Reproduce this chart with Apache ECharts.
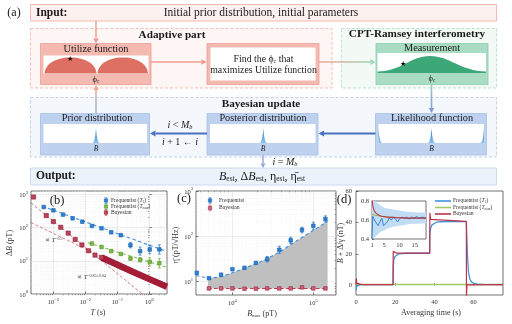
<!DOCTYPE html>
<html><head><meta charset="utf-8">
<script src="https://cdn.jsdelivr.net/npm/echarts@6/dist/echarts.min.js"></script>
<style>html,body{margin:0;padding:0;background:#fff}#c{width:512px;height:324px}</style>
</head><body><div id="c"></div>
<script>
// ---------------- DATA ----------------
// (b) noise vs. Ramsey time T (s), ΔB (pT)
const bT      = [5e-4,1e-3,2e-3,4e-3,8e-3,0.016,0.032,0.064,0.128,0.256,0.512,1.024,2.048];
const bBlue   = [415,330,245,190,150,112,95,72,59,29.5,19.5,22,22];
const bBlueLo = [395,313,232,180,142,106,90,68,55,24.5,14.8,16.3,15.9];
const bBlueHi = [436,347,258,200,158,118,100,76,63,35.6,25.7,29.7,30.3];
const bGreenT = [0.016,0.032,0.064,0.128,0.256,0.512,1.024,2.048];
const bGreen  = [33,26,19.5,16,11.7,10.7,9.3,8.5];
const bGreenLo= [30,23.6,17.7,14.5,10.4,9.2,7.0,6.1];
const bGreenHi= [36,28.6,21.5,17.6,13.2,12.4,12.3,11.8];
const bRedT   = [2.4e-4,6e-4,1e-3,1.7e-3,2.9e-3,4.8e-3,7.8e-3,0.0125,0.02,0.032];
const bRed    = [830,229,151,102,68,44,30,20,14.8,12.6];
const bBandT  = [0.032,0.1,0.3,1,3.55];
const bBand   = [12.5,7.6,4.7,2.8,1.65];
const bBlueFitT = [4.5e-4,3.2],  bBlueFit = [440,19.5];
const bGreenFitT= [0.012,3.55],  bGreenFit= [35,6.3];
const bSteepT   = [2e-4,0.6],    bSteep   = [550,1];
const bShallowT = [2e-4,3.55],   bShallow = [141,1.5];
const bXTicks = [-3,-2,-1,0], bYTicks = [0,1,2,3];

// (c) sensitivity vs. B_max (pT)
const cB      = [3630,5130,7240,10000,14100,19500,26900,38000,52500,72400,100000,141000];
const cFreq   = [15.5,11.8,14.1,18.6,20,25.7,31,50,81,138,170,240];
const cFreqLo = [14.8,11.3,13.5,17.8,19.1,24.5,27,41.7,69,119,142,204];
const cFreqHi = [16.2,12.4,14.8,19.5,21,26.9,35.6,60,95,158,204,282];
const cBayB   = [5130,7240,10000,14100,19500,26900,38000,52500,72400,100000,141000];
const cBay    = [7.0,7.0,7.0,6.9,6.9,7.0,7.0,7.0,7.4,7.0,7.0];
const cBayLo  = [6.7,6.7,6.7,6.6,6.6,6.7,6.7,6.7,7.1,6.7,6.7];
const cBayHi  = [7.3,7.3,7.3,7.2,7.2,7.3,7.3,7.3,7.7,7.3,7.3];
const cFitB   = [3550,5000,7000,10000,14000,20000,28000,40000,56000,80000,110000,150000];
const cFit    = [13.5,11.8,12.5,15.5,19.5,25,33,47,70,105,150,215];
const cBayFitB= [5000,150000], cBayFit = [7.0,7.0];
const cXTicks = [4,5], cYTicks = [1,2,3];

// (d) tracking: averaging time (s), B + Δ/γ (nT)
const dBlueT = [0,0.3,0.8,2,18.9,19.0,19.3,19.8,20.5,21.5,23,26,37.6,37.7,38.1,38.8,39.8,41,43,47,56.3,56.5,56.9,57.4,58,58.8,60,62,65,75];
const dBlue  = [-3,-0.5,0.4,0.6,0.6,12,16.5,18.3,19.3,19.9,20.3,20.5,20.5,33,36.5,38.5,39.6,40.2,40.5,40.6,40.6,33,18,8.5,4.5,2.5,1.4,0.9,0.7,0.6];
const dRedT  = [0,0.15,0.4,1,3,18.9,19.0,19.4,20.5,37.6,37.7,38.1,39,56.3,56.35,56.6,57.5,75];
const dRed   = [0.5,4.5,1.5,0.8,0.6,0.6,21.8,21,20.6,20.6,46,42,41,40.7,-8,0.4,0.6,0.6];
const dGreenT= [0,2,75];
const dGreen = [0.6,0.62,0.62];
const dXTicks = [0,20,40,60], dYTicks = [0,20,40,60];
// inset
const iBlueT = [1,1.25,1.8,2.3,3,3.6,4.2,4.8,5.4,6,6.6,7.3,8,8.7,9.4,10,10.8,11.6,12.4,13.2,14,14.8,15.6,16.5,17.5,18.7];
const iBlue  = [0.40,0.64,0.60,0.60,0.54,0.58,0.62,0.54,0.52,0.58,0.62,0.60,0.63,0.61,0.58,0.61,0.63,0.62,0.63,0.61,0.63,0.62,0.635,0.62,0.63,0.62];
const iBandT = [1,2,3,4,5,6,8,10,12,14,16,18.7];
const iBandLo= [0.40,0.42,0.45,0.48,0.49,0.51,0.53,0.54,0.55,0.56,0.56,0.565];
const iBandHi= [0.82,0.80,0.77,0.75,0.73,0.72,0.71,0.70,0.69,0.685,0.68,0.68];
const iRedT  = [1,1.3,1.7,2.2,3,4,6,9,13,18.7];
const iRed   = [0.82,0.74,0.70,0.675,0.655,0.64,0.63,0.625,0.62,0.62];
const iGreenT= [1,2,3,5,8,12,18.7];
const iGreen = [0.66,0.65,0.645,0.635,0.628,0.622,0.62];
const iXTicks = [1,5,10,15];

// ---------------- STYLE ----------------
const SERIF = '"Liberation Serif","Times New Roman",serif';
const C_BLUE='#2f7fd0', C_GREEN='#7ab648';
const L = Math.log10;
const pairsLog = (xs,ys)=>xs.map((x,i)=>[L(x),L(ys[i])]);
const triLog = (xs,lo,hi)=>xs.map((x,i)=>[L(x),L(lo[i]),L(hi[i])]);
const pairs = (xs,ys)=>xs.map((x,i)=>[x,ys[i]]);

const richTick = {
  a:{fontSize:6.5,fontFamily:SERIF,color:'#333',verticalAlign:'bottom',lineHeight:9},
  s:{fontSize:4.6,fontFamily:SERIF,color:'#333',verticalAlign:'top',lineHeight:5}
};
const powFmt = v => '{a|10}{s|' + (v<0 ? '\u2212'+(-v) : v) + '}';
function minorList(d0,d1,lo,hi){const out=[];for(let d=d0;d<=d1;d++){for(let m=2;m<=9;m++){const v=d+L(m);if(v>lo&&v<hi)out.push(v);}}return out;}

function errRender(params, api){
  const x=api.value(0), lo=api.value(1), hi=api.value(2);
  const p1=api.coord([x,lo]), p2=api.coord([x,hi]);
  const w=1.4, st={stroke:api.visual('color'),lineWidth:0.8};
  return {type:'group',children:[
    {type:'line',shape:{x1:p1[0],y1:p1[1],x2:p2[0],y2:p2[1]},style:st},
    {type:'line',shape:{x1:p1[0]-w,y1:p1[1],x2:p1[0]+w,y2:p1[1]},style:st},
    {type:'line',shape:{x1:p2[0]-w,y1:p2[1],x2:p2[0]+w,y2:p2[1]},style:st}]};
}
// filled band between value dims 1 (low) and 2 (high)
function bandRender(params, api){
  if(params.dataIndexInside!==0) return null;
  const n=params.dataInsideLength, top=[], bot=[];
  for(let j=0;j<n;j++){
    top.push(api.coord([api.value(0,j),api.value(2,j)]));
    bot.push(api.coord([api.value(0,j),api.value(1,j)]));
  }
  return {type:'polygon',shape:{points:top.concat(bot.reverse())},style:{fill:api.visual('color')}};
}

// ---------------- AXES ----------------
function majorAxis(grid,min,max,ticks,pos){
  return {gridIndex:grid,type:'value',min,max,position:pos,axisLine:{show:false},
    axisTick:{show:true,inside:true,length:2.5,customValues:ticks,lineStyle:{color:'#333',width:0.6}},
    axisLabel:{customValues:ticks,formatter:powFmt,rich:richTick,margin:3},
    splitLine:{show:true,lineStyle:{color:'#d9d9d9',width:0.5}}};
}
function minorAxis(grid,min,max,vals,pos){
  return {gridIndex:grid,type:'value',min,max,position:pos,axisLine:{show:false},
    axisTick:{show:true,inside:true,length:1.3,customValues:vals,lineStyle:{color:'#555',width:0.5}},
    axisLabel:{show:false},
    splitLine:{show:true,lineStyle:{color:'#e8e8e8',width:0.5,type:[1,1.5]}}};
}
function linAxis(grid,min,max,ticks,m,fmt){
  return {gridIndex:grid,type:'value',min,max,axisLine:{show:false},
    axisTick:{inside:true,length:2.5,customValues:ticks,lineStyle:{color:'#333',width:0.6}},
    axisLabel:{customValues:ticks,fontSize:6.5,fontFamily:SERIF,color:'#333',margin:m,formatter:fmt},splitLine:{show:false}};
}
const bx0=L(2e-4), bx1=L(3.55), by0=0, by1=3.1;
const cx0=3.55, cx1=5.28, cy0=0.7, cy1=3;

const xAxis=[
  majorAxis(0,bx0,bx1,bXTicks,'bottom'),
  minorAxis(0,bx0,bx1,minorList(-4,0,bx0,bx1),'top'),
  majorAxis(1,cx0,cx1,cXTicks,'bottom'),
  minorAxis(1,cx0,cx1,minorList(3,5,cx0,cx1),'top'),
  linAxis(2,0,75,dXTicks,4),
  linAxis(3,1,18.7,iXTicks,3)
];
const yAxis=[
  majorAxis(0,by0,by1,bYTicks,'left'),
  minorAxis(0,by0,by1,minorList(0,3,by0,by1),'right'),
  majorAxis(1,cy0,cy1,cYTicks,'left'),
  minorAxis(1,cy0,cy1,minorList(0,3,cy0,cy1),'right'),
  linAxis(2,-6,60,dYTicks,4),
  {gridIndex:3,type:'value',min:0.4,max:0.8,interval:0.2,axisLine:{show:false},
   axisTick:{inside:true,length:2,lineStyle:{color:'#333',width:0.6}},
   axisLabel:{fontSize:6.5,fontFamily:SERIF,color:'#333',margin:3,formatter:v=>v.toFixed(1)},splitLine:{show:false}}
];
const gridBox={show:true,borderColor:'#333',borderWidth:0.7,backgroundColor:'#fff'};
const grid=[
  Object.assign({left:31,top:191,width:136,height:103},gridBox),
  Object.assign({left:196,top:191,width:140,height:104},gridBox),
  Object.assign({left:356,top:191,width:147,height:104},gridBox),
  Object.assign({left:372,top:201,width:54,height:38,z:5},gridBox)
];

// ---------------- SERIES ----------------
const S=[];
const line=(xi,data,color,w,dash,z)=>({type:'line',xAxisIndex:xi,yAxisIndex:xi,data,symbol:'none',silent:true,clip:true,z:z||2,
  lineStyle:{color,width:w,type:dash||'solid'}});
const errS=(xi,data,color)=>({type:'custom',xAxisIndex:xi,yAxisIndex:xi,data,renderItem:errRender,itemStyle:{color},silent:true,clip:true,z:3});
const bandS=(xi,data,color,z)=>({type:'custom',xAxisIndex:xi,yAxisIndex:xi,data,renderItem:bandRender,itemStyle:{color},silent:true,clip:true,z:z||1});
const scat=(xi,data,color,border,size)=>({type:'scatter',xAxisIndex:xi,yAxisIndex:xi,data,symbol:'rect',symbolSize:size||3.6,silent:true,z:4,
  itemStyle:{color,borderColor:border,borderWidth:0.6,opacity:1}});
// (b)
S.push(line(0,pairsLog(bShallowT,bShallow),'#c8485c',0.7,[3,2]));
S.push(line(0,pairsLog(bSteepT,bSteep),'#c8485c',0.7,[3,2]));
S.push(line(0,pairsLog(bBlueFitT,bBlueFit),'#3d90e0',1.1,[3.5,2.5]));
S.push(line(0,pairsLog(bGreenFitT,bGreenFit),'#86c24e',1.1,[3.5,2.5]));
S.push(line(0,pairsLog(bBandT,bBand),'#a51c37',6.5));
S.push(errS(0,triLog(bT,bBlueLo,bBlueHi),C_BLUE));
S.push(scat(0,pairsLog(bT,bBlue),C_BLUE,'#1f66b0'));
S.push(errS(0,triLog(bGreenT,bGreenLo,bGreenHi),C_GREEN));
S.push(scat(0,pairsLog(bGreenT,bGreen),C_GREEN,'#5e9a30'));
S.push(scat(0,pairsLog(bRedT,bRed),'#b9445a','#8f1530',4.2));
// (c)
const cFillIdx = cFitB.map((b,i)=>i).filter(i=>cFitB[i]>=cBayFitB[0]&&cFitB[i]<=cBayFitB[1]);
S.push(bandS(2,cFillIdx.map(i=>[L(cFitB[i]),L(cBayFit[0]),L(cFit[i])]),'#bfbfbf',1));
S.push(line(2,pairsLog(cFitB,cFit),'#3d90e0',1.1,[3.5,2.5]));
S.push(line(2,pairsLog(cBayFitB,cBayFit),'#c23a52',1.1,[3.5,2.5]));
S.push(errS(2,triLog(cB,cFreqLo,cFreqHi),C_BLUE));
S.push(scat(2,pairsLog(cB,cFreq),C_BLUE,'#1f66b0'));
S.push(errS(2,triLog(cBayB,cBayLo,cBayHi),'#b9445a'));
S.push(scat(2,pairsLog(cBayB,cBay),'#c9647a','#a0203a',3.6));
// (d)
S.push(line(4,pairs(dGreenT,dGreen),'#9ccc65',1.4));
S.push(line(4,pairs(dBlueT,dBlue),'#3f95dd',1.3));
S.push(line(4,pairs(dRedT,dRed),'#c0334c',1.2));
// inset
S.push(bandS(5,iBandT.map((t,i)=>[t,iBandLo[i],iBandHi[i]]),'#c2dcf3',6));
const ins=(d,c,w)=>Object.assign(line(5,d,c,w),{z:7});
S.push(ins(pairs(iGreenT,iGreen),'#8cc152',1.2));
S.push(ins(pairs(iBlueT,iBlue),'#2f86d6',1.0));
S.push(ins(pairs(iRedT,iRed),'#c0334c',1.1));

// ---------------- DIAGRAM (graphic) ----------------
const g=[];
const R=(x,y,w,h,fill,stroke,lw,dash)=>g.push({type:'rect',silent:true,shape:{x,y,width:w,height:h},
  style:{fill,stroke:stroke||null,lineWidth:lw||0,lineDash:dash||null}});
const T=(x,y,text,o)=>{o=o||{};g.push({type:'text',x,y,rotation:o.rot||0,silent:true,z:20,
  style:{text,fill:o.color||'#1a1a1a',fontSize:o.size||9,fontFamily:SERIF,fontWeight:o.bold?'bold':'normal',
  fontStyle:o.italic?'italic':'normal',align:o.align||'center',verticalAlign:o.va||'middle',rich:o.rich||undefined}});};
function cub(p0,p1,p2,p3,n){const o=[];for(let k=0;k<=n;k++){const t=k/n,u=1-t;
  o.push([u*u*u*p0[0]+3*u*u*t*p1[0]+3*u*t*t*p2[0]+t*t*t*p3[0],u*u*u*p0[1]+3*u*u*t*p1[1]+3*u*t*t*p2[1]+t*t*t*p3[1]]);}return o;}
function quadPts(p0,p1,p2,n){const o=[];for(let k=0;k<=n;k++){const t=k/n,u=1-t;o.push([u*u*p0[0]+2*u*t*p1[0]+t*t*p2[0],u*u*p0[1]+2*u*t*p1[1]+t*t*p2[1]]);}return o;}
const Poly=(pts,fill)=>g.push({type:'polygon',silent:true,shape:{points:pts},style:{fill}});
const grad=(x1,y1,x2,y2,c1,c2)=>({type:'linear',x:x1,y:y1,x2:x2,y2:y2,global:true,colorStops:[{offset:0,color:c1},{offset:1,color:c2}]});
function arrow(x1,y1,x2,y2,col,lw,hl,headCol){
  const a=Math.atan2(y2-y1,x2-x1), hw=hl*0.55;
  const bx=x2-hl*Math.cos(a), by=y2-hl*Math.sin(a);
  g.push({type:'line',silent:true,shape:{x1,y1,x2:bx,y2:by},style:{stroke:col,lineWidth:lw}});
  g.push({type:'polygon',silent:true,shape:{points:[[x2,y2],[bx-hw*Math.sin(a),by+hw*Math.cos(a)],[bx+hw*Math.sin(a),by-hw*Math.cos(a)]]},
    style:{fill:headCol||col}});
}
const rs=(sz)=>({n:{fontSize:sz,fontFamily:SERIF},i:{fontSize:sz,fontFamily:SERIF,fontStyle:'italic'},
  s:{fontSize:sz*0.62,fontFamily:SERIF,verticalAlign:'bottom'},
  si:{fontSize:sz*0.62,fontFamily:SERIF,fontStyle:'italic',verticalAlign:'bottom'},
  p:{fontSize:sz*0.62,fontFamily:SERIF,verticalAlign:'top'}});

// outer frames
R(30.5,4.5,466,16.5,'#fdf1ef','#eea99f',0.8);
R(30.5,28.5,301.5,59.5,'#fef6f4','#f3ada2',0.8,[3,2]);
R(341.5,28.5,155,59.5,'#f3faf6','#a6dbc2',0.8,[3,2]);
R(30.5,97.5,466,59.5,'#f4f8fd','#b2c8ea',0.8,[3,2]);
R(30.5,168,466,17,'#ebf2fa','#c3d3ea',0.8);
T(14,13,'(a)',{size:12});
T(36,13,'Input:',{bold:true,size:11.5,align:'left'});
T(261,13,'Initial prior distribution, initial parameters',{size:11.5});
T(172,35.5,'Adaptive part',{bold:true,size:11.2});
T(417,34.5,'CPT-Ramsey interferometry',{bold:true,size:11.2});
T(261,104.5,'Bayesian update',{bold:true,size:11.2});
T(36,176.5,'Output:',{bold:true,size:11.5,align:'left'});
T(262,177,'{i|B}{s|est}{n|, Δ}{i|B}{s|est}{n|, η}{s|est}{n|, η̄}{s|est}',{size:12,rich:rs(12)});

// utilize box
R(40.5,43.5,110.5,41,'#f4b9b0','#eb9f94',0.8);
R(43.5,55.5,105,18.5,'#ffffff');
T(96,49.5,'Utilize function',{size:10.3});
Poly(cub([44.5,73.5],[46,52],[95,52],[96.5,73.5],24),'#de6f63');
Poly(cub([97.5,73.5],[99,52],[146.5,52],[148,73.5],24),'#de6f63');
T(69.5,59.5,'★',{size:7,color:'#000'});
T(96,79.5,'{n|ϕ}{s|c}',{size:8.5,rich:rs(8.5)});
// find box
R(207,43.5,112,41,'#f4b9b0','#eb9f94',0.8);
R(210.5,47.5,105,33,'#ffffff');
T(263.5,59,'{n|Find the ϕ}{s|c}{n| that}',{size:9.8,rich:rs(9.8)});
T(263.5,70,'maximizes Utilize function',{size:9.8});
// measurement box
R(376,43.5,112,41,'#a9dcc2','#8ccfb0',0.8);
R(377.5,53,108.5,20,'#ffffff');
T(432,48.5,'Measurement',{size:10.3});
Poly([[377.5,73]].concat(cub([377.5,71.5],[402,71],[410,56],[430,56],16),cub([430,56],[450,56],[460,71],[486,71.5],16),[[486,73]]),'#3ca877');
T(403,64,'★',{size:7,color:'#000'});
T(432,79,'{n|ϕ}{s|c}',{size:8.5,rich:rs(8.5)});
// blue boxes
function bluebox(x,w,title,tx){
  R(x,113.5,w,41.5,'#bed1ef','#a6bfe6',0.8);
  R(x+3,124,w-5.5,19,'#ffffff');
  T(tx,118.5,title,{size:10.3});
}
bluebox(40.5,109,'Prior distribution',97);
bluebox(207,111,'Posterior distribution',263);
bluebox(375.5,111,'Likelihood function',432);
const pg=()=>grad(0,128,0,143,'#1a6fc4','#8fc4f0');
const peak=(x)=>Poly(quadPts([x-4,143],[x-0.9,143],[x,128],10).concat(quadPts([x,128],[x+0.9,143],[x+4,143],10)),pg());
peak(96); peak(263.3); peak(431.5);
Poly(quadPts([378.5,128],[379.3,143],[382.5,143],10).concat([[378.5,143]]),pg());
Poly(quadPts([484,128],[483.2,143],[480,143],10).concat([[484,143]]),pg());
T(96,149,'B',{size:7.5,italic:true});
T(263,149,'B',{size:7.5,italic:true});
T(431.5,149,'B',{size:7.5,italic:true});
// arrows
arrow(96,21,96,43.5,'#f19a8c',1.4,5);
arrow(151,62,206.5,62,'#f19a8c',1.4,5);
arrow(319,62,375.5,62,grad(319,0,375,0,'#f2a494','#9ad6b6'),1.4,5,'#9ad6b6');
arrow(431.5,84.5,431.5,113,grad(0,85,0,113,'#9cc9c0','#7e98dc'),1.6,5,'#7e98dc');
arrow(375.5,133.5,318.5,133.5,'#4a72c0',2,5.5);
arrow(207,133.5,150,133.5,'#4a72c0',2,5.5);
arrow(96,113.5,96,85,grad(0,113,0,85,'#8fb0e0','#f3a090'),1.4,5,'#f3a090');
arrow(263,155,263,168,'#8ea6dc',1.4,4.5);
T(180,125,'{i|i}{n| < }{i|M}{si|b}',{size:10,rich:rs(10)});
T(180,142,'{i|i}{n| + 1 ← }{i|i}',{size:10,rich:rs(10)});
T(285,162,'{i|i}{n| = }{i|M}{si|b}',{size:10,rich:rs(10)});

// ---------------- chart decorations ----------------
T(57,201,'(b)',{size:12.5});
T(184,199,'(c)',{size:12.5});
T(344,200,'(d)',{size:12.5});
T(10,243,'{n|Δ}{i|B}{n| (pT)}',{size:8,rot:Math.PI/2,rich:rs(8),color:'#333'});
T(98,313,'{i|T}{n| (s)}',{size:8,rich:rs(8),color:'#333'});
T(176,245,'{n|η̄ (pT/√Hz)}',{size:8,rot:Math.PI/2,rich:rs(8),color:'#333'});
T(262,314,'{i|B}{s|max}{n| (pT)}',{size:8,rich:rs(8),color:'#333'});
T(341,243,'{i|B}{n| + Δ/γ (nT)}',{size:8,rot:Math.PI/2,rich:rs(8),color:'#333'});
T(431,313,'Averaging time (s)',{size:8,color:'#333'});
T(45,240,'{n|∝ }{i|T}{p|−0.5}',{size:6.5,align:'left',rich:rs(6.5),color:'#333'});
T(77,277,'{n|∝ }{i|T}{p|−0.85±0.04}',{size:6.5,align:'left',rich:rs(6.5),color:'#333'});
// legends
function legIconSq(x,y,c,bc){
  g.push({type:'line',silent:true,z:20,shape:{x1:x,y1:y-2.8,x2:x,y2:y+2.8},style:{stroke:c,lineWidth:0.7}});
  g.push({type:'line',silent:true,z:20,shape:{x1:x-1.3,y1:y-2.8,x2:x+1.3,y2:y-2.8},style:{stroke:c,lineWidth:0.7}});
  g.push({type:'line',silent:true,z:20,shape:{x1:x-1.3,y1:y+2.8,x2:x+1.3,y2:y+2.8},style:{stroke:c,lineWidth:0.7}});
  g.push({type:'rect',silent:true,z:20,shape:{x:x-1.7,y:y-1.7,width:3.4,height:3.4},style:{fill:c,stroke:bc,lineWidth:0.5}});
}
function legIconLine(x,y,c){g.push({type:'line',silent:true,z:20,shape:{x1:x,y1:y,x2:x+16,y2:y},style:{stroke:c,lineWidth:1.6}});}
const lr=rs(5.6);
const legF1='{n|Frequentist (}{i|T}{si|1}{n|)}', legF2='{n|Frequentist (}{i|T}{si|max}{n|)}', legB='{n|Bayesian}';
legIconSq(106,200.5,C_BLUE,'#1f66b0'); T(111,200.5,legF1,{size:5.6,align:'left',rich:lr,color:'#333'});
legIconSq(106,206.5,C_GREEN,'#5e9a30'); T(111,206.5,legF2,{size:5.6,align:'left',rich:lr,color:'#333'});
legIconSq(106,212.5,'#b9445a','#8f1530'); T(111,212.5,legB,{size:5.6,align:'left',rich:lr,color:'#333'});
legIconSq(210,200.5,C_BLUE,'#1f66b0'); T(219,200.5,'{n|Frequentist}',{size:5.6,align:'left',rich:lr,color:'#333'});
legIconSq(210,208,'#c9647a','#a0203a'); T(219,208,legB,{size:5.6,align:'left',rich:lr,color:'#333'});
legIconLine(435,201,'#3f95dd'); T(453,201,legF1,{size:5.6,align:'left',rich:lr,color:'#333'});
legIconLine(435,207.5,'#9ccc65'); T(453,207.5,legF2,{size:5.6,align:'left',rich:lr,color:'#333'});
legIconLine(435,214,'#c0334c'); T(453,214,legB,{size:5.6,align:'left',rich:lr,color:'#333'});

const chart=echarts.init(document.getElementById('c'),null,{renderer:'canvas'});
chart.setOption({animation:false,backgroundColor:'#fff',grid,xAxis,yAxis,series:S,graphic:{elements:g}});
</script></body></html>
